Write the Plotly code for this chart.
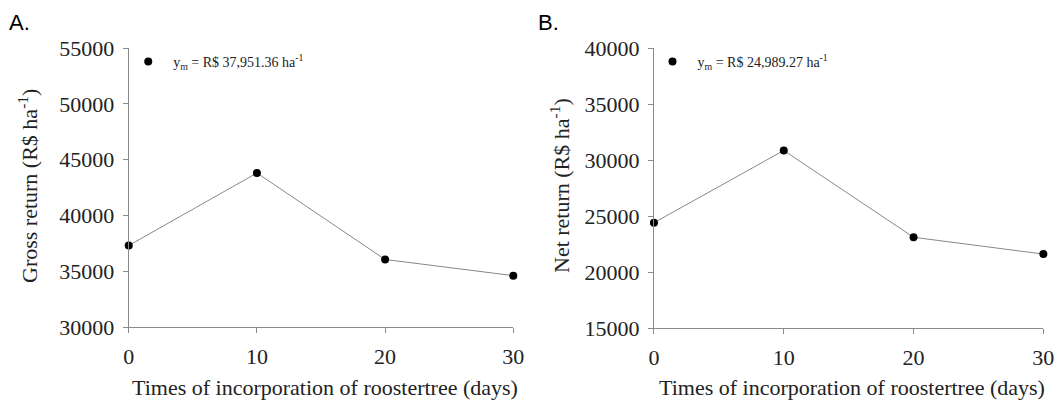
import plotly.graph_objects as go

days = [0, 10, 20, 30]
gross_return = [37300, 43800, 36050, 34600]
net_return = [24400, 30850, 23100, 21600]
gross_label = "y<sub>m</sub> = R$ 37,951.36 ha<sup>-1</sup>"
net_label = "y<sub>m</sub> = R$ 24,989.27 ha<sup>-1</sup>"
x_ticks = [0, 10, 20, 30]
gross_ticks = [30000, 35000, 40000, 45000, 50000, 55000]
net_ticks = [15000, 20000, 25000, 30000, 35000, 40000]

SERIF = "Liberation Serif, Times New Roman, serif"
AX = "#8a8a8a"

fig = go.Figure()
for xa, ya, vals, lab, leg in [("x", "y", gross_return, gross_label, "legend"),
                               ("x2", "y2", net_return, net_label, "legend2")]:
    fig.add_trace(go.Scatter(x=days, y=vals, mode="lines", line=dict(color="#888888", width=1),
                             xaxis=xa, yaxis=ya, showlegend=False, cliponaxis=False))
    fig.add_trace(go.Scatter(x=days, y=vals, mode="markers", name=lab,
                             marker=dict(color="black", size=8),
                             xaxis=xa, yaxis=ya, showlegend=True, legend=leg, cliponaxis=False))

axis_common = dict(showgrid=False, zeroline=False, showline=True, linecolor=AX, linewidth=1,
                   ticks="outside", ticklen=5, tickcolor=AX, tickwidth=1, tickformat="d",
                   automargin=False,
                   tickfont=dict(family=SERIF, size=22, color="#222"))

fig.update_layout(
    width=1057, height=400, margin=dict(l=0, r=0, t=0, b=0, autoexpand=False),
    paper_bgcolor="white", plot_bgcolor="white",
    xaxis=dict(domain=[0.1218, 0.4856], range=[0, 30], tickvals=x_ticks, anchor="y",
               ticklabelstandoff=5, **axis_common),
    yaxis=dict(domain=[0.1825, 0.88], range=[30000, 55000], tickvals=gross_ticks, anchor="x",
               ticklabelstandoff=4, **axis_common),
    xaxis2=dict(domain=[0.6187, 0.9871], range=[0, 30], tickvals=x_ticks, anchor="y2",
                ticklabelstandoff=5, **axis_common),
    yaxis2=dict(domain=[0.18, 0.88], range=[15000, 40000], tickvals=net_ticks, anchor="x2",
                ticklabelstandoff=4, **axis_common),
    legend=dict(x=0.1166, y=0.885, xanchor="left", yanchor="top", bgcolor="rgba(0,0,0,0)",
                itemwidth=40, font=dict(family=SERIF, size=14, color="#222")),
    legend2=dict(x=0.6126, y=0.885, xanchor="left", yanchor="top", bgcolor="rgba(0,0,0,0)",
                 itemwidth=40, font=dict(family=SERIF, size=14, color="#222")),
)

annos = [
    dict(text="A.", x=7, y=22),
    dict(text="B.", x=536, y=22),
]
for a in annos:
    fig.add_annotation(text=a["text"], x=a["x"] / 1057, y=1 - a["y"] / 400, xref="paper", yref="paper",
                       xanchor="left", yanchor="middle", showarrow=False,
                       font=dict(family="Liberation Sans, Arial, sans-serif", size=22, color="black"))

for txt, xc in [("Gross return (R$ ha<sup>-1</sup>)", 28), ("Net return (R$ ha<sup>-1</sup>)", 560)]:
    fig.add_annotation(text=txt, x=xc / 1057, y=1 - 186 / 400, xref="paper", yref="paper",
                       xanchor="center", yanchor="middle", showarrow=False, textangle=-90,
                       font=dict(family=SERIF, size=22, color="#222"))
for xc in [325, 852]:
    fig.add_annotation(text="Times of incorporation of roostertree (days)", x=xc / 1057, y=1 - 387 / 400,
                       xref="paper", yref="paper", xanchor="center", yanchor="middle", showarrow=False,
                       font=dict(family=SERIF, size=22, color="#222"))

fig.write_html("out.html")
